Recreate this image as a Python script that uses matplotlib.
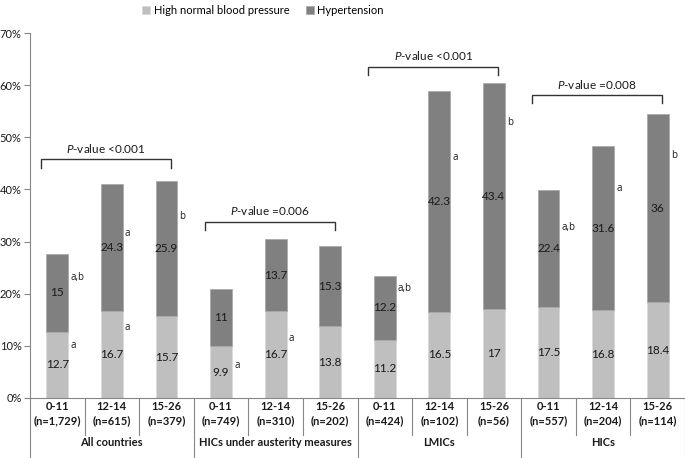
import numpy as np
import matplotlib
matplotlib.use("Agg")
import matplotlib.pyplot as plt

plt.rcParams['font.family'] = ['Lato', 'DejaVu Sans']
plt.rcParams['mathtext.fontset'] = 'custom'
plt.rcParams['mathtext.it'] = 'Lato:italic'
plt.rcParams['mathtext.rm'] = 'Lato'

# data
ages = ["0-11", "12-14", "15-26"] * 4
counts = ["(n=1,729)", "(n=615)", "(n=379)",
          "(n=749)", "(n=310)", "(n=202)",
          "(n=424)", "(n=102)", "(n=56)",
          "(n=557)", "(n=204)", "(n=114)"]
groups = ["All countries", "HICs under austerity measures", "LMICs", "HICs"]
high_normal = [12.7, 16.7, 15.7, 9.9, 16.7, 13.8, 11.2, 16.5, 17, 17.5, 16.8, 18.4]
hypertension = [15, 24.3, 25.9, 11, 13.7, 15.3, 12.2, 42.3, 43.4, 22.4, 31.6, 36]
p_values = ["<0.001", "=0.006", "<0.001", "=0.008"]
# letter annotations: (bar index, y value in %, text)
letters = [(0, 23.1, "a,b"), (0, 10.0, "a"), (1, 31.5, "a"), (1, 13.5, "a"),
           (2, 34.8, "b"), (3, 6.2, "a"), (4, 11.5, "a"), (6, 21.0, "a,b"),
           (7, 46.2, "a"), (8, 52.9, "b"), (9, 32.7, "a,b"), (10, 40.2, "a"),
           (11, 46.5, "b")]
# bracket heights (top of bracket, %)
bracket_tops = [45.8, 33.8, 63.5, 58.1]

LIGHT = "#bfbfbf"
DARK = "#808080"
TXT = "#1a1a1a"

fig = plt.figure(figsize=(6.85, 4.58), dpi=100)
ax = fig.add_axes([30 / 685, 1 - 398 / 458, 655 / 685, 365 / 458])

x = np.arange(len(high_normal))
b1 = ax.bar(x, high_normal, width=0.4, color=LIGHT, edgecolor="#d9d9d9", linewidth=0.5,
            label="High normal blood pressure")
b2 = ax.bar(x, hypertension, width=0.4, bottom=high_normal, color=DARK, edgecolor="#a6a6a6",
            linewidth=0.5, label="Hypertension")

for i in x:
    ax.text(i, high_normal[i] / 2, f"{high_normal[i]:g}", ha="center", va="center",
            fontsize=8.5, color=TXT)
    ax.text(i, high_normal[i] + hypertension[i] / 2, f"{hypertension[i]:g}", ha="center",
            va="center", fontsize=8.5, color=TXT)

for i, yv, t in letters:
    ax.text(i + 0.24, yv, t, ha="left", va="center", fontsize=7, color=TXT,
            family=["Open Sans", "DejaVu Sans"])

# brackets with p-values
for g in range(4):
    x0 = 3 * g - 0.3
    x1 = 3 * g + 2.08
    top = bracket_tops[g]
    ax.plot([x0, x0, x1, x1], [top - 1.6, top, top, top - 1.6], color="#333333", lw=1.0,
            solid_joinstyle="miter")
    ax.text((x0 + x1) / 2, top + 2.1, "$P$-value " + p_values[g], ha="center",
            va="center", fontsize=8.5, color=TXT)

ax.set_xlim(-0.5, 11.5)
ax.set_ylim(0, 70)
ax.set_yticks(np.arange(0, 71, 10))
ax.set_yticklabels([f"{v}%" for v in range(0, 71, 10)], fontsize=8, color=TXT)
ax.set_xticks([])
ax.tick_params(axis="y", length=4, color="#868686", pad=2)
for s in ["top", "right"]:
    ax.spines[s].set_visible(False)
ax.spines["left"].set_color("#868686")
ax.spines["bottom"].set_color("#868686")

# category table under the axis
tr = ax.get_xaxis_transform()
for i in x:
    ax.text(i, -0.022, ages[i], transform=tr, ha="center", va="center", fontsize=8,
            fontweight="bold", color=TXT)
    ax.text(i, -0.063, counts[i], transform=tr, ha="center", va="center", fontsize=8,
            fontweight="bold", color=TXT)
for g in range(4):
    ax.text(3 * g + 1, -0.123, groups[g], transform=tr, ha="center", va="center",
            fontsize=8, fontweight="bold", color=TXT)
for k in range(13):
    xb = k - 0.5
    y_end = -0.164 if k % 3 == 0 else -0.101
    ax.plot([xb, xb], [0, y_end], transform=tr, color="#868686", lw=0.8, clip_on=False)

fig.legend(handles=[b1, b2], loc="upper center", bbox_to_anchor=(263 / 685, 1.012), ncol=2,
           frameon=False, fontsize=8, handlelength=0.7, handleheight=0.7,
           columnspacing=1.5, handletextpad=0.3)

fig.savefig("out.png", dpi=100)
